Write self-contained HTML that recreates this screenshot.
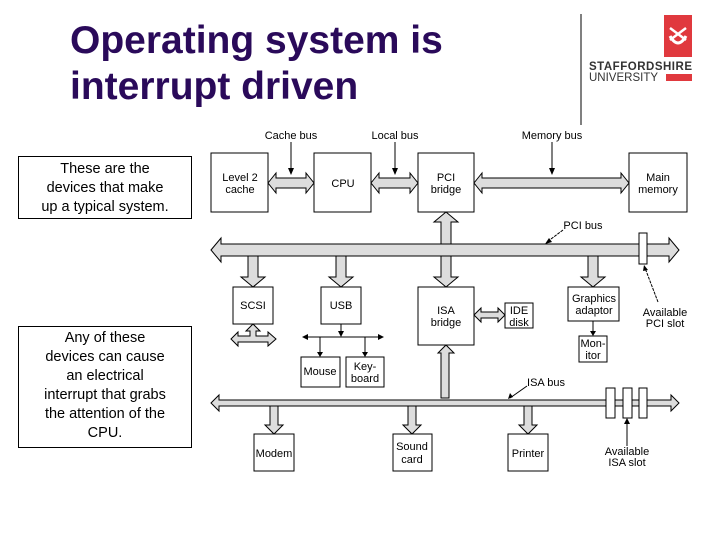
<!DOCTYPE html>
<html><head><meta charset="utf-8"><style>
body{margin:0;width:720px;height:540px;background:#fff;position:relative;overflow:hidden;font-family:"Liberation Sans",sans-serif}
.t{position:absolute;left:70px;top:18px;font-size:39px;font-weight:bold;line-height:46px;color:#2a0a5a}
.b{position:absolute;border:1px solid #000;text-align:center;font-size:14.5px;line-height:19px;background:#fff;white-space:nowrap}
</style></head><body>
<div class="t">Operating system is<br>interrupt driven</div>
<div class="b" style="left:18px;top:156px;width:172px;height:58px;padding-top:3px">These are the<br>devices that make<br>up a typical system.</div>
<div class="b" style="left:18px;top:326px;width:172px;height:118px;padding-top:2px">Any of these<br>devices can cause<br>an electrical<br>interrupt that grabs<br>the attention of the<br>CPU.</div>
<svg width="720" height="540" style="position:absolute;left:0;top:0" font-family="Liberation Sans,sans-serif">
<line x1="581" y1="14" x2="581" y2="125" stroke="#000"/>
<rect x="664" y="15" width="28" height="42" fill="#e0393e"/>
<path d="M670 36 q8 14 16 0" stroke="#fff" stroke-width="3" fill="none"/>
<path d="M670 28 l16 12 M686 28 l-16 12" stroke="#fff" stroke-width="2.5"/>
<text x="589" y="70" font-size="11.5" font-weight="bold" fill="#333" textLength="103">STAFFORDSHIRE</text>
<text x="589" y="81" font-size="11.5" fill="#333">UNIVERSITY</text>
<rect x="666" y="74" width="26" height="7" fill="#e0393e"/>
<g stroke="#000" stroke-width="1" fill="#ddd">
<polygon points="268,183 276,173 276,178 306,178 306,173 314,183 306,193 306,188 276,188 276,193"/>
<polygon points="371,183 379,173 379,178 410,178 410,173 418,183 410,193 410,188 379,188 379,193"/>
<polygon points="474,183 482,173 482,178 621,178 621,173 629,183 621,193 621,188 482,188 482,193"/>
<polygon points="446,212 458,222 451,222 451,277 458,277 446,287 434,277 441,277 441,222 434,222"/>
<polygon points="446,345 454,353 449,353 449,398 441,398 441,353 438,353"/>
<polygon points="211,250 221,238 221,244 669,244 669,238 679,250 669,262 669,256 221,256 221,262"/>
<polygon points="211,403 219,395 219,400 671,400 671,395 679,403 671,411 671,406 219,406 219,411"/>
<polygon points="248,256 258,256 258,277 265,277 253,287 241,277 248,277"/>
<polygon points="336,256 346,256 346,277 353,277 341,287 329,277 336,277"/>
<polygon points="588,256 598,256 598,277 605,277 593,287 581,277 588,277"/>
<polygon points="270,406 278,406 278,425 283,425 274,434 265,425 270,425"/>
<polygon points="408,406 416,406 416,425 421,425 412,434 403,425 408,425"/>
<polygon points="524,406 532,406 532,425 537,425 528,434 519,425 524,425"/>
<polygon points="474,315 481,308 481,312 498,312 498,308 505,315 498,322 498,318 481,318 481,322"/>
<polygon points="253,324 260,331 256,331 256,336 268,336 268,332 276,339 268,346 268,342 238,342 238,346 231,339 238,332 238,336 250,336 250,331 246,331"/>
</g>
<rect x="441.5" y="244.5" width="9" height="11" fill="#ddd"/>
<rect x="441.5" y="400.5" width="7" height="5" fill="#ddd"/>
<g stroke="#000" fill="#fff">
<rect x="211" y="153" width="57" height="59"/><rect x="314" y="153" width="57" height="59"/>
<rect x="418" y="153" width="56" height="59"/><rect x="629" y="153" width="58" height="59"/>
<rect x="233" y="287" width="40" height="37"/><rect x="321" y="287" width="40" height="37"/>
<rect x="418" y="287" width="56" height="58"/><rect x="505" y="303" width="28" height="25"/>
<rect x="568" y="287" width="51" height="34"/><rect x="579" y="336" width="28" height="26"/>
<rect x="301" y="357" width="39" height="30"/><rect x="346" y="357" width="38" height="30"/>
<rect x="254" y="434" width="40" height="37"/><rect x="393" y="434" width="39" height="37"/>
<rect x="508" y="434" width="40" height="37"/>
<rect x="639" y="233" width="8" height="31"/>
<rect x="606" y="388" width="9" height="30"/><rect x="623" y="388" width="9" height="30"/><rect x="639" y="388" width="8" height="30"/>
</g>
<g stroke="#000" fill="none">
<line x1="291" y1="142" x2="291" y2="174"/><line x1="395" y1="142" x2="395" y2="174"/><line x1="552" y1="142" x2="552" y2="174"/>
<line x1="341" y1="324" x2="341" y2="335"/><line x1="304" y1="337" x2="382" y2="337"/>
<line x1="320" y1="337" x2="320" y2="355"/><line x1="365" y1="337" x2="365" y2="355"/>
<line x1="593" y1="321" x2="593" y2="334"/>
<line x1="563" y1="230" x2="547" y2="242" stroke-dasharray="3,1"/>
<line x1="658" y1="302" x2="645" y2="268" stroke-dasharray="3,1"/>
<line x1="527" y1="386" x2="510" y2="398"/>
<line x1="627" y1="446" x2="627" y2="421"/>
</g>
<g fill="#000">
<polygon points="288,168 294,168 291,175"/><polygon points="392,168 398,168 395,175"/><polygon points="549,168 555,168 552,175"/>
<polygon points="338,331 344,331 341,337"/><polygon points="302,337 308,334 308,340"/><polygon points="384,337 378,334 378,340"/>
<polygon points="317,352 323,352 320,357"/><polygon points="362,352 368,352 365,357"/><polygon points="590,331 596,331 593,336"/>
<polygon points="545,244 549,238 552,242"/><polygon points="644,265 648,270 643,271"/><polygon points="508,399 510,393 513,397"/><polygon points="624,424 630,424 627,418"/>
</g>
<g font-size="11" text-anchor="middle" fill="#000">
<text x="291" y="139">Cache bus</text><text x="395" y="139">Local bus</text><text x="552" y="139">Memory bus</text>
<text x="240" y="181">Level 2</text><text x="240" y="193">cache</text>
<text x="343" y="187">CPU</text>
<text x="446" y="181">PCI</text><text x="446" y="193">bridge</text>
<text x="658" y="181">Main</text><text x="658" y="193">memory</text>
<text x="583" y="229">PCI bus</text>
<text x="253" y="309">SCSI</text><text x="341" y="309">USB</text>
<text x="446" y="314">ISA</text><text x="446" y="326">bridge</text>
<text x="519" y="314">IDE</text><text x="519" y="326">disk</text>
<text x="594" y="302">Graphics</text><text x="594" y="314">adaptor</text>
<text x="665" y="316">Available</text><text x="665" y="327">PCI slot</text>
<text x="593" y="347">Mon-</text><text x="593" y="359">itor</text>
<text x="320" y="375">Mouse</text><text x="365" y="370">Key-</text><text x="365" y="382">board</text>
<text x="546" y="386">ISA bus</text>
<text x="274" y="457">Modem</text>
<text x="412" y="450">Sound</text><text x="412" y="463">card</text>
<text x="528" y="457">Printer</text>
<text x="627" y="455">Available</text><text x="627" y="466">ISA slot</text>
</g>
</svg>
</body></html>
